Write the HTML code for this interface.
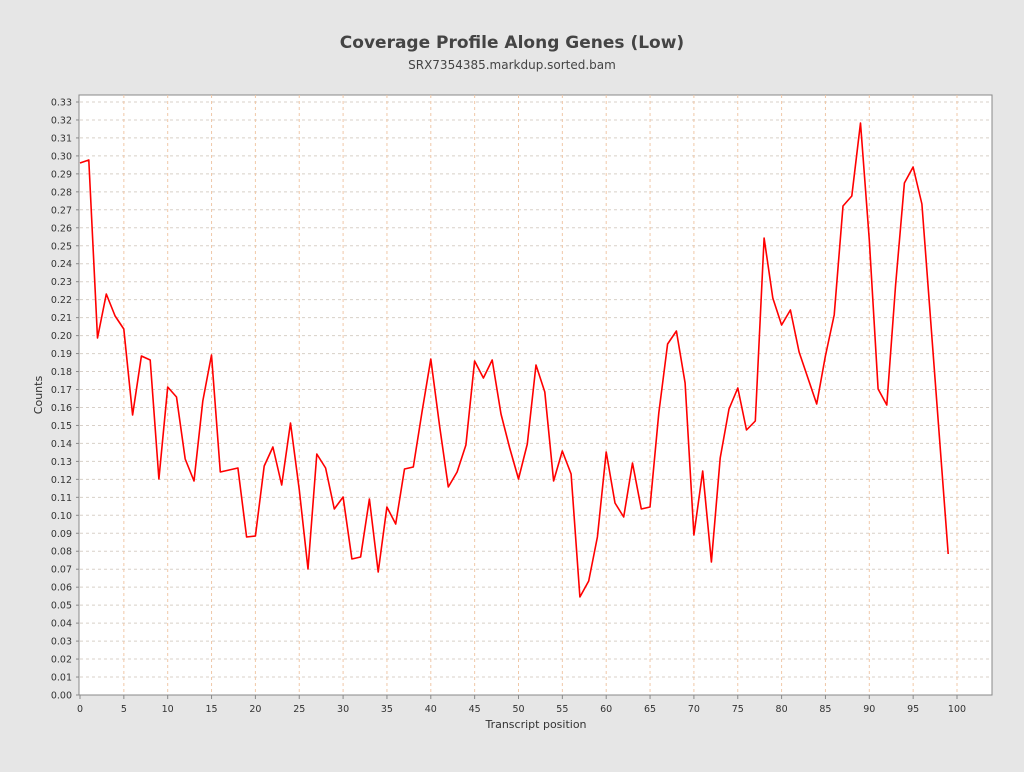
<!DOCTYPE html>
<html><head><meta charset="utf-8"><style>
body{margin:0;background:#e6e6e6;font-family:"DejaVu Sans","Liberation Sans",sans-serif;}
</style></head><body>
<svg width="1024" height="768" xmlns="http://www.w3.org/2000/svg" font-family="DejaVu Sans, Liberation Sans, sans-serif">
<rect width="1024" height="768" fill="#e6e6e6"/>
<text x="512" y="48" text-anchor="middle" font-size="17" font-weight="bold" fill="#444">Coverage Profile Along Genes (Low)</text>
<text x="512" y="69" text-anchor="middle" font-size="12" fill="#444">SRX7354385.markdup.sorted.bam</text>
<rect x="79" y="95" width="913" height="600" fill="#fff" stroke="#888"/>
<g id="grid" stroke-dasharray="3,3" stroke-width="1"></g>
<g id="ticks" font-size="9.5" fill="#333"></g>
<text x="536" y="728" text-anchor="middle" font-size="11" fill="#333">Transcript position</text>
<text x="42" y="395" text-anchor="middle" font-size="11" fill="#333" transform="rotate(-90 42 395)">Counts</text>
<polyline id="line" fill="none" stroke="#ff0000" stroke-width="1.6" stroke-linejoin="round"/>
</svg>
<script>
var ns="http://www.w3.org/2000/svg";
var g=document.getElementById('grid'),t=document.getElementById('ticks');
function el(p,n,a){var e=document.createElementNS(ns,n);for(var k in a)e.setAttribute(k,a[k]);p.appendChild(e);return e;}
for(var i=0;i<=33;i++){var y=695-i*17.97;
 if(i>0)el(g,'line',{x1:80,x2:992,y1:y,y2:y,stroke:'#d8d0c8'});
 el(t,'line',{x1:76,x2:79,y1:y,y2:y,stroke:'#888'});
 var tx=el(t,'text',{x:72,y:y+3.5,'text-anchor':'end'});tx.textContent=(i/100).toFixed(2);}
for(var j=0;j<=100;j+=5){var x=80+j*8.77;
 if(j>0)el(g,'line',{x1:x,x2:x,y1:95,y2:695,stroke:'#f0c8a8'});
 el(t,'line',{x1:x,x2:x,y1:695,y2:699,stroke:'#888'});
 var tx=el(t,'text',{x:x,y:712,'text-anchor':'middle'});tx.textContent=j;}
var ys={0:163,1:160,2:338,3:294,4:316,5:329,6:415,7:356,8:360,9:479,10:387,11:397,12:459,13:481,14:401,15:355,16:472,17:470,18:468,19:537,20:536,21:466,22:447,23:485,24:423,25:490,26:569,27:454,28:468,29:509,30:497,31:559,32:557,33:499,34:572,35:507,36:524,37:469,38:467,39:412,40:359,41:426,42:487,43:472,44:445,45:361,46:378,47:360,48:414,49:448,50:479,51:444,52:365,53:392,54:481,55:451,56:474,57:597,58:581,59:537,60:452,61:503,62:517,63:463,64:509,65:507,66:413,67:344,68:331,69:383,70:535,71:471,72:562,73:458,74:409,75:388,76:430,77:421,78:238,79:298,80:325,81:310,82:352,83:378,84:404,85:356,86:315,87:206,88:196,89:123,90:240,91:389,92:405,93:285,94:183,95:167,96:204,99:554};
var pts=[];for(var k in ys)pts.push((80+k*8.77).toFixed(1)+','+ys[k]);
document.getElementById('line').setAttribute('points',pts.join(' '));
</script>
</body></html>
